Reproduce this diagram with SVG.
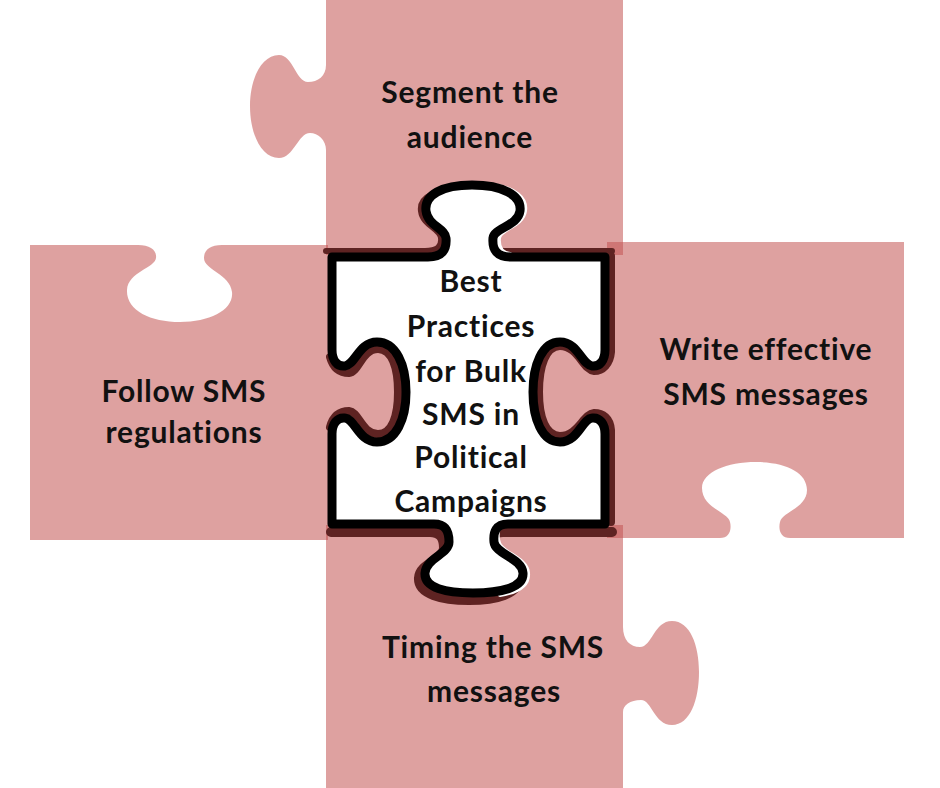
<svg xmlns="http://www.w3.org/2000/svg" width="940" height="788" viewBox="0 0 940 788">
<style>
.pink{fill:#c35452;fill-opacity:0.55;stroke:none}
.mar{fill:none;stroke:#5e2322;stroke-linecap:round;stroke-linejoin:round}
.hl{fill:none;stroke:#ffffff;stroke-width:4;stroke-linecap:round}
.ctr{fill:#ffffff;stroke:#000000;stroke-width:9;stroke-linejoin:round}
.lbl{font-family:Lato,"Liberation Sans",sans-serif;font-weight:700;font-size:30px;letter-spacing:0.8px;fill:#111111;text-anchor:middle}
</style>
<rect width="940" height="788" fill="#ffffff"/>
<g id="piece-top">
<path class="pink" d="M326,0 H623 V255 H326 V150 C326,140 318,133 310,133 C298,133 294,158 279,158 C262,158 250,135 250,106 C250,78 262,55 279,55 C293,55 296,82 308,82 C318,82 326,76 326,65 Z"/>
<text class="lbl" x="470" y="103">Segment the</text>
<text class="lbl" x="470" y="148">audience</text>
</g>
<g id="piece-left">
<path class="pink" d="M30,245 H138 C150,245 157,250 156,258 C155,268 128,272 127,290 C126,310 150,322 180,322 C210,322 234,310 232,292 C230,274 204,270 204,258 C204,250 210,245 222,245 H328 V350 L332,350 C332,360 337,367 345,366 C355,365 359,342 377,342 C396,342 406,365 406,392 C406,419 396,442 377,442 C359,442 355,419 345,418 C337,417 332,424 332,434 L328,434 V540 H30 Z"/>
<text class="lbl" x="184" y="402">Follow SMS</text>
<text class="lbl" x="184" y="443">regulations</text>
</g>
<g id="piece-right">
<path class="pink" d="M607,242 H904 V538 H790 C781,538 778,530 780,522 C782,512 807,508 807,490 C807,472 785,462 756,462 C727,462 702,472 702,488 C702,508 728,512 730,522 C732,530 729,538 720,538 H607 V434 L605,434 C605,424 600,417 592,418 C582,419 578,442 560,442 C542,442 533,419 533,392 C533,365 542,342 560,342 C578,342 582,365 592,366 C600,367 605,360 605,350 L607,350 Z"/>
<text class="lbl" x="766" y="360">Write effective</text>
<text class="lbl" x="766" y="405">SMS messages</text>
</g>
<g id="piece-bottom">
<path class="pink" d="M326,525 H623 V627 C623,640 630,647 640,647 C652,647 654,621 672,621 C690,621 699,645 699,672 C699,700 690,725 672,725 C654,725 652,700 641,700 C630,700 623,705 623,712 V788 H326 Z"/>
<text class="lbl" x="493" y="658">Timing the SMS</text>
<text class="lbl" x="494" y="702">messages</text>
</g>
<g id="edges">
<path class="mar" stroke-width="6" d="M326,251 H425 C437,251 442,247 441,238 C440,228 423,226 421,211 C419,197 437,188 467,188 C497,188 517,197 515,211 C513,226 489,228 488,238 C487,247 492,251 505,251 H612"/>
<path class="mar" stroke-width="8" d="M330,357 C333,368 340,373 349,373 C359,372 362,349 378,349 C392,349 398,368 398,392 C398,416 392,434 378,434 C362,434 359,412 349,411 C340,411 333,416 330,427"/>
<path class="mar" stroke-width="8" d="M611,256 V352 C610,364 603,371 594,371 C583,370 578,346 560,346 C546,346 539,366 539,392 C539,418 546,436 560,436 C578,436 583,414 594,413 C603,413 610,418 611,430 V522"/>
<path class="mar" stroke-width="10" d="M331,532 H430 C441,532 444,539 444,548 C444,560 420,563 419,578 C418,594 442,600 469,600 C496,600 519,594 518,578 C517,563 490,560 489,550 C488,540 492,532 503,532 H612"/>
<path class="hl" d="M493,185 C515,188 527,198 525,211 C523,226 500,229 499,238 C498,248 502,253 510,254"/>
<path class="hl" d="M499,527 C497,534 497,538 499,543 C502,553 527,558 528,573 C529,585 518,592 500,595"/>
</g>
<g id="piece-center">
<path class="ctr" d="M332,257 H428 C442,257 447,250 446,238 C445,228 428,226 426,211 C424,195 442,185 472,185 C502,185 522,195 520,211 C518,226 494,228 493,238 C492,250 497,257 511,257 H605 V350 C605,360 600,367 592,366 C582,365 578,342 560,342 C542,342 533,365 533,392 C533,419 542,442 560,442 C578,442 582,419 592,418 C600,417 605,424 605,434 V524 H508 C496,524 493,532 494,542 C495,554 522,558 523,573 C524,588 500,593 473,593 C446,593 424,588 425,573 C426,558 449,554 449,542 C449,532 446,524 434,524 H332 V434 C332,424 337,417 345,418 C355,419 359,442 377,442 C396,442 406,419 406,392 C406,365 396,342 377,342 C359,342 355,365 345,366 C337,367 332,360 332,350 Z"/>
<text class="lbl" x="471" y="292">Best</text>
<text class="lbl" x="471" y="337">Practices</text>
<text class="lbl" x="471" y="382">for Bulk</text>
<text class="lbl" x="471" y="425">SMS in</text>
<text class="lbl" x="471" y="468">Political</text>
<text class="lbl" x="471" y="512">Campaigns</text>
</g>
<g id="connectors"/>
</svg>
